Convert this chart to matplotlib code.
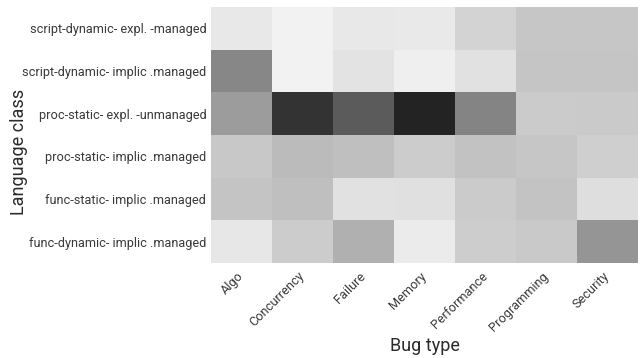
import matplotlib
matplotlib.use("Agg")
import matplotlib.pyplot as plt
import numpy as np

plt.rcParams['font.family'] = ['Roboto', 'DejaVu Sans']

language_classes = [
    "script-dynamic- expl. -managed",
    "script-dynamic- implic .managed",
    "proc-static- expl. -unmanaged",
    "proc-static- implic .managed",
    "func-static- implic .managed",
    "func-dynamic- implic .managed",
]
bug_types = ["Algo", "Concurrency", "Failure", "Memory",
             "Performance", "Programming", "Security"]

# grey level of each cell (0 = black, 255 = white)
row_script_expl = [232, 242, 232, 233, 211, 198, 198]
row_script_impl = [135, 242, 227, 239, 225, 197, 197]
row_proc_expl = [156, 51, 91, 35, 132, 203, 202]
row_proc_impl = [200, 187, 191, 204, 194, 198, 207]
row_func_static = [196, 191, 225, 224, 203, 195, 222]
row_func_dynamic = [231, 204, 176, 235, 205, 201, 149]

grid = np.array([row_script_expl, row_script_impl, row_proc_expl,
                 row_proc_impl, row_func_static, row_func_dynamic])

fig = plt.figure(figsize=(6.4, 3.58), dpi=100)
ax = fig.add_axes([0.330, 0.265, 0.667, 0.715])

ax.pcolormesh(grid, cmap='gray', vmin=0, vmax=255)
ax.set_xlim(0, len(bug_types))
ax.set_ylim(len(language_classes), 0)

ax.set_xticks(np.arange(len(bug_types)) + 0.5)
ax.set_xticklabels(bug_types, rotation=45, ha='right', va='center',
                   rotation_mode='anchor', fontsize=9.2, color='#3a3a3a')
ax.set_yticks(np.arange(len(language_classes)) + 0.5)
ax.set_yticklabels(language_classes, fontsize=9.2, color='#3a3a3a')
ax.tick_params(axis='y', length=0, pad=3.5)
ax.tick_params(axis='x', length=0, pad=8)

for s in ax.spines.values():
    s.set_visible(False)

ax.set_xlabel("Bug type", fontsize=13, color='#2a2a2a')
ax.set_ylabel("Language class", fontsize=13, color='#2a2a2a')
ax.xaxis.set_label_coords(0.5, -0.29)
ax.yaxis.set_label_coords(-0.429, 0.434)

fig.savefig("out.png", dpi=100)
